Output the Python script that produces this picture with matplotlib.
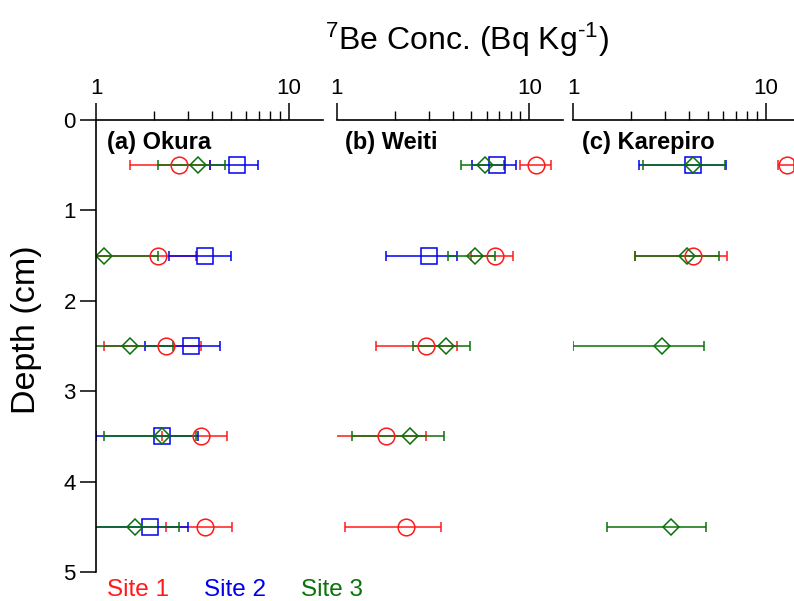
import numpy as np
import matplotlib
matplotlib.use("Agg")
import matplotlib.pyplot as plt
from matplotlib.ticker import FixedLocator, LogLocator, NullFormatter, FixedFormatter

plt.rcParams['font.family'] = ['Liberation Sans', 'DejaVu Sans']
plt.rcParams['mathtext.fontset'] = 'custom'
plt.rcParams['mathtext.rm'] = 'Liberation Sans'
plt.rcParams['mathtext.it'] = 'Liberation Sans'

nan = np.nan
depth = [0.5, 1.5, 2.5, 3.5, 4.5]

# (a) Okura
okura_s1 = [2.7, 2.1, 2.3, 3.5, 3.7]
okura_s1_err = [1.2, 1.2, 1.2, 1.3, 1.4]
okura_s2 = [5.4, 3.7, 3.1, 2.2, 1.9]
okura_s2_err = [1.5, 1.3, 1.3, 1.2, 1.1]
okura_s3 = [3.4, 1.1, 1.5, 2.2, 1.6]
okura_s3_err = [1.3, 1.0, 1.0, 1.1, 1.1]

# (b) Weiti
weiti_s1 = [10.9, 6.6, 2.9, 1.8, 2.3]
weiti_s1_err = [2.0, 1.6, 1.3, 1.1, 1.2]
weiti_s2 = [6.8, 3.0, nan, nan, nan]
weiti_s2_err = [1.75, 1.2, nan, nan, nan]
weiti_s3 = [5.9, 5.2, 3.7, 2.4, nan]
weiti_s3_err = [1.5, 1.4, 1.2, 1.2, nan]

# (c) Karepiro
kare_s1 = [12.8, 4.2, nan, nan, nan]
kare_s1_err = [1.2, 2.1, nan, nan, nan]
kare_s2 = [4.2, nan, nan, nan, nan]
kare_s2_err = [2.0, nan, nan, nan, nan]
kare_s3 = [4.2, 3.9, 2.9, nan, 3.2]
kare_s3_err = [1.9, 1.8, 1.9, nan, 1.7]

panels = [
    ("(a) Okura", [(okura_s1, okura_s1_err), (okura_s2, okura_s2_err), (okura_s3, okura_s3_err)]),
    ("(b) Weiti", [(weiti_s1, weiti_s1_err), (weiti_s2, weiti_s2_err), (weiti_s3, weiti_s3_err)]),
    ("(c) Karepiro", [(kare_s1, kare_s1_err), (kare_s2, kare_s2_err), (kare_s3, kare_s3_err)]),
]
site_names = ["Site 1", "Site 2", "Site 3"]
colors = ["#ff1a1a", "#0000ee", "#0a720a"]
markers = ["o", "s", "D"]
msizes = [12, 12, 8.3]

W, H = 794, 601
fig = plt.figure(figsize=(W / 100, H / 100), dpi=100)

lefts = [96, 336.7, 573.3]
top_px, bot_px = 120, 572
axw = 226.5

for i, (label, series) in enumerate(panels):
    ax = fig.add_axes([lefts[i] / W, 1 - bot_px / H, axw / W, (bot_px - top_px) / H])
    ax.set_xscale('log')
    for j, (vals, errs) in enumerate(series):
        v = np.array(vals, dtype=float)
        e = np.array(errs, dtype=float)
        ok = ~np.isnan(v)
        ax.errorbar(v[ok], np.array(depth)[ok], xerr=e[ok], fmt=markers[j],
                    ms=msizes[j], mfc='none', mec=colors[j], mew=1.1,
                    ecolor=colors[j], elinewidth=1.1, capsize=3.6, capthick=1.1)
    ax.set_xlim(1, 15)
    ax.set_ylim(5, 0)
    ax.xaxis.tick_top()
    ax.xaxis.set_major_locator(FixedLocator([1, 10]))
    ax.xaxis.set_major_formatter(FixedFormatter(['1', '10']))
    ax.xaxis.set_minor_locator(LogLocator(base=10, subs=np.arange(2, 10)))
    ax.xaxis.set_minor_formatter(NullFormatter())
    ax.tick_params(axis='x', which='major', direction='out', length=12, width=1.1,
                   labelsize=16, pad=3)
    ax.tick_params(axis='x', which='minor', direction='out', length=6.5, width=1)
    ax.spines['bottom'].set_visible(False)
    ax.spines['right'].set_visible(False)
    ax.spines['top'].set_linewidth(1.2)
    if i == 0:
        ax.spines['left'].set_linewidth(1.2)
        ax.set_yticks([0, 1, 2, 3, 4, 5])
        ax.tick_params(axis='y', direction='out', length=11.5, width=1.1,
                       labelsize=16, pad=3)
        lx = 0.048
    else:
        ax.spines['left'].set_visible(False)
        ax.tick_params(axis='y', left=False, labelleft=False)
        lx = 0.037
    ax.text(lx, 0.951, label, transform=ax.transAxes, fontsize=17,
            fontweight='bold', ha='left', va='center')

fig.text(467 / W, 1 - 50 / H, '$^{7}$Be Conc. (Bq Kg$^{\u2010 1}$)', fontsize=23,
         ha='center', va='baseline')
fig.text(27 / W, 1 - 330 / H, 'Depth (cm)', fontsize=24.5, rotation=90,
         ha='center', va='center')

for name, c, x in zip(site_names, colors, [107, 204, 301]):
    fig.text(x / W, 1 - 596 / H, name, color=c, fontsize=17.5, ha='left', va='baseline')

fig.savefig('out.png', dpi=100)
